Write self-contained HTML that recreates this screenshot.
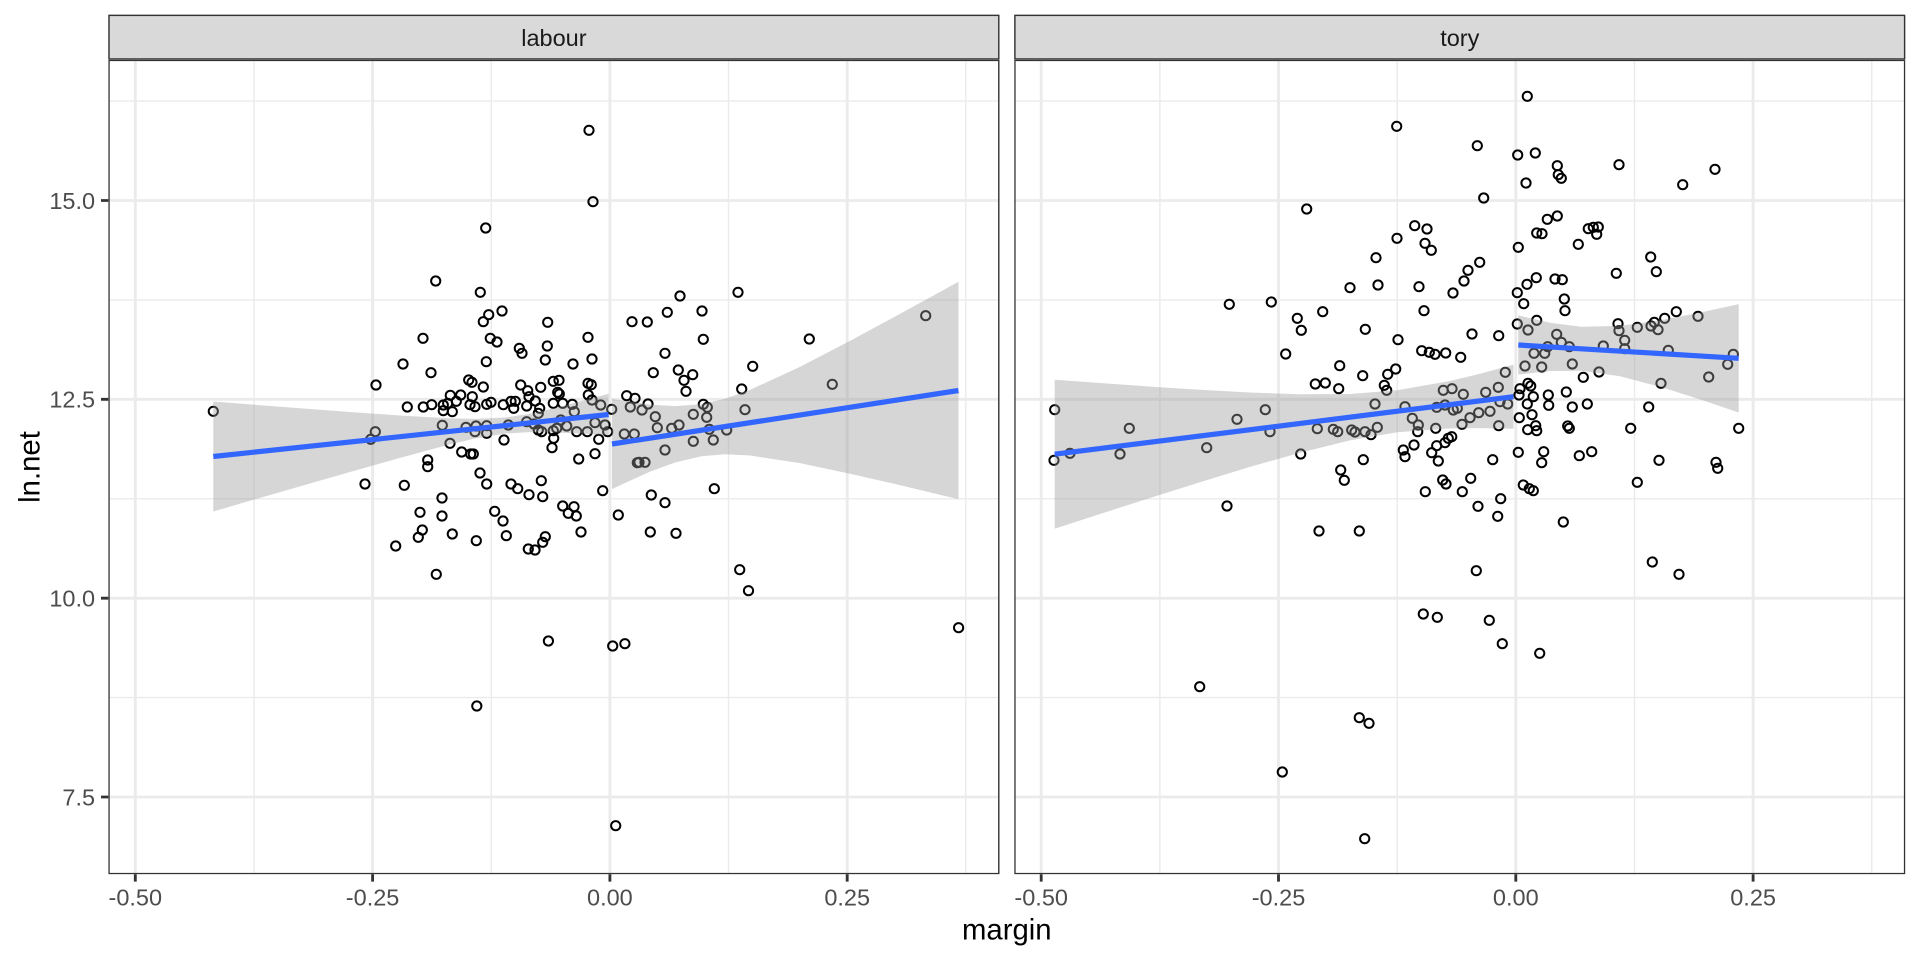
<!DOCTYPE html>
<html>
<head>
<meta charset="utf-8">
<style>
html,body{margin:0;padding:0;background:#fff;}
svg{display:block;}
text{font-family:"Liberation Sans",Arial,sans-serif;}
</style>
</head>
<body>
<svg width="1920" height="960" viewBox="0 0 1920 960" xmlns="http://www.w3.org/2000/svg">
<defs>
<clipPath id="cl"><rect x="108.3" y="59.7" width="891.2" height="814.6"/></clipPath>
<clipPath id="cr"><rect x="1014.2" y="59.7" width="891.1" height="814.6"/></clipPath>
</defs>
<rect x="0" y="0" width="1920" height="960" fill="#fff"/>

<!-- LEFT PANEL -->
<g clip-path="url(#cl)">
<rect x="108.3" y="59.7" width="891.2" height="814.6" fill="#fff"/>
<g stroke="#EBEBEB" stroke-width="1.42" fill="none">
<path d="M108.3 101.1H999.5M108.3 299.9H999.5M108.3 498.8H999.5M108.3 697.6H999.5M254 59.7V874.3M491.3 59.7V874.3M728.5 59.7V874.3M965.8 59.7V874.3"/>
</g>
<g stroke="#EBEBEB" stroke-width="2.85" fill="none">
<path d="M108.3 200.5H999.5M108.3 399.3H999.5M108.3 598.2H999.5M108.3 797H999.5M135.3 59.7V874.3M372.6 59.7V874.3M609.9 59.7V874.3M847.2 59.7V874.3"/>
</g>
<g fill="none" stroke="#000" stroke-width="2">
<circle cx="213.3" cy="411.3" r="4.6"/><circle cx="435.7" cy="281" r="4.6"/><circle cx="480.3" cy="292.3" r="4.6"/><circle cx="502" cy="311" r="4.6"/><circle cx="488.7" cy="314.7" r="4.6"/><circle cx="483.3" cy="321.7" r="4.6"/><circle cx="547.7" cy="322.3" r="4.6"/><circle cx="632" cy="321.7" r="4.6"/><circle cx="423" cy="338.3" r="4.6"/><circle cx="490.3" cy="338.3" r="4.6"/><circle cx="497" cy="342" r="4.6"/><circle cx="588" cy="337.3" r="4.6"/><circle cx="547.3" cy="346" r="4.6"/><circle cx="519.3" cy="348.3" r="4.6"/><circle cx="522" cy="353.3" r="4.6"/><circle cx="545.3" cy="360" r="4.6"/><circle cx="592" cy="359" r="4.6"/><circle cx="486.3" cy="361.7" r="4.6"/><circle cx="403" cy="364" r="4.6"/><circle cx="573" cy="364" r="4.6"/><circle cx="431" cy="372.7" r="4.6"/><circle cx="376" cy="385" r="4.6"/><circle cx="468.7" cy="380" r="4.6"/><circle cx="472" cy="382.3" r="4.6"/><circle cx="483.3" cy="387" r="4.6"/><circle cx="520.7" cy="385" r="4.6"/><circle cx="540.7" cy="387.3" r="4.6"/><circle cx="553.3" cy="381.3" r="4.6"/><circle cx="559" cy="380.3" r="4.6"/><circle cx="527.7" cy="390.7" r="4.6"/><circle cx="557.7" cy="392.3" r="4.6"/><circle cx="588" cy="383.3" r="4.6"/><circle cx="591.3" cy="384.7" r="4.6"/><circle cx="588.3" cy="395" r="4.6"/><circle cx="450.3" cy="395.3" r="4.6"/><circle cx="460.7" cy="395" r="4.6"/><circle cx="472.3" cy="396.7" r="4.6"/><circle cx="529" cy="396.7" r="4.6"/><circle cx="559.3" cy="394" r="4.6"/><circle cx="626.7" cy="395.7" r="4.6"/><circle cx="635" cy="398.3" r="4.6"/><circle cx="407.3" cy="407" r="4.6"/><circle cx="423.3" cy="407" r="4.6"/><circle cx="431.7" cy="404.7" r="4.6"/><circle cx="443.3" cy="405" r="4.6"/><circle cx="447.7" cy="403.3" r="4.6"/><circle cx="456.3" cy="401.3" r="4.6"/><circle cx="470" cy="404.7" r="4.6"/><circle cx="475" cy="406.7" r="4.6"/><circle cx="486.7" cy="404.3" r="4.6"/><circle cx="491" cy="402.3" r="4.6"/><circle cx="503.3" cy="404.7" r="4.6"/><circle cx="511" cy="401.3" r="4.6"/><circle cx="515.3" cy="401.3" r="4.6"/><circle cx="513.7" cy="408.3" r="4.6"/><circle cx="526.7" cy="406" r="4.6"/><circle cx="535.3" cy="401" r="4.6"/><circle cx="539.7" cy="408.3" r="4.6"/><circle cx="553.3" cy="403.3" r="4.6"/><circle cx="562.7" cy="403.3" r="4.6"/><circle cx="572.3" cy="404.3" r="4.6"/><circle cx="592" cy="400" r="4.6"/><circle cx="600.7" cy="405" r="4.6"/><circle cx="611.7" cy="409.3" r="4.6"/><circle cx="630.3" cy="407" r="4.6"/><circle cx="443.3" cy="410.7" r="4.6"/><circle cx="452.3" cy="411.7" r="4.6"/><circle cx="538.3" cy="413.3" r="4.6"/><circle cx="574.3" cy="411.7" r="4.6"/><circle cx="560.7" cy="420" r="4.6"/><circle cx="526.7" cy="421.7" r="4.6"/><circle cx="534" cy="424" r="4.6"/><circle cx="595" cy="422.7" r="4.6"/><circle cx="442.3" cy="425.3" r="4.6"/><circle cx="466" cy="427.3" r="4.6"/><circle cx="476" cy="426" r="4.6"/><circle cx="486.7" cy="425.7" r="4.6"/><circle cx="508.3" cy="425" r="4.6"/><circle cx="566.7" cy="426" r="4.6"/><circle cx="605" cy="425" r="4.6"/><circle cx="475" cy="431.7" r="4.6"/><circle cx="486.7" cy="433.3" r="4.6"/><circle cx="538.3" cy="430" r="4.6"/><circle cx="541.7" cy="431.7" r="4.6"/><circle cx="553.3" cy="430.7" r="4.6"/><circle cx="556.7" cy="428.3" r="4.6"/><circle cx="576.7" cy="431.7" r="4.6"/><circle cx="587.3" cy="431.7" r="4.6"/><circle cx="607.7" cy="431.7" r="4.6"/><circle cx="624.3" cy="434" r="4.6"/><circle cx="634.3" cy="434" r="4.6"/><circle cx="375.3" cy="431.7" r="4.6"/><circle cx="370.7" cy="439.3" r="4.6"/><circle cx="504" cy="440" r="4.6"/><circle cx="553.7" cy="438.3" r="4.6"/><circle cx="598.7" cy="439.3" r="4.6"/><circle cx="450" cy="443.3" r="4.6"/><circle cx="552" cy="447.7" r="4.6"/><circle cx="461.7" cy="452" r="4.6"/><circle cx="470.7" cy="454" r="4.6"/><circle cx="473.3" cy="454" r="4.6"/><circle cx="595" cy="453.7" r="4.6"/><circle cx="578.7" cy="459" r="4.6"/><circle cx="427.7" cy="460" r="4.6"/><circle cx="427.7" cy="466.7" r="4.6"/><circle cx="637.3" cy="462.7" r="4.6"/><circle cx="480" cy="473" r="4.6"/><circle cx="486.7" cy="484" r="4.6"/><circle cx="365" cy="484" r="4.6"/><circle cx="404.3" cy="485.3" r="4.6"/><circle cx="511" cy="484" r="4.6"/><circle cx="517.7" cy="488.7" r="4.6"/><circle cx="541.3" cy="480.7" r="4.6"/><circle cx="602.7" cy="490.7" r="4.6"/><circle cx="529" cy="494.7" r="4.6"/><circle cx="542.7" cy="496.7" r="4.6"/><circle cx="442" cy="498" r="4.6"/><circle cx="562.7" cy="506" r="4.6"/><circle cx="574" cy="506.7" r="4.6"/><circle cx="568.3" cy="513.3" r="4.6"/><circle cx="576.3" cy="516" r="4.6"/><circle cx="420" cy="512.3" r="4.6"/><circle cx="442" cy="516" r="4.6"/><circle cx="494.7" cy="511.3" r="4.6"/><circle cx="503" cy="521" r="4.6"/><circle cx="618.3" cy="515" r="4.6"/><circle cx="422.3" cy="530" r="4.6"/><circle cx="418.3" cy="537.3" r="4.6"/><circle cx="452.3" cy="534" r="4.6"/><circle cx="476.3" cy="540.7" r="4.6"/><circle cx="506.3" cy="535.7" r="4.6"/><circle cx="545.3" cy="536.7" r="4.6"/><circle cx="542.7" cy="542.3" r="4.6"/><circle cx="581" cy="532" r="4.6"/><circle cx="395.7" cy="546" r="4.6"/><circle cx="528.3" cy="549" r="4.6"/><circle cx="535" cy="550" r="4.6"/>
<circle cx="680" cy="296" r="4.6"/><circle cx="738" cy="292.3" r="4.6"/><circle cx="667.3" cy="312.3" r="4.6"/><circle cx="702" cy="311" r="4.6"/><circle cx="647.3" cy="322" r="4.6"/><circle cx="703.3" cy="339.3" r="4.6"/><circle cx="809.3" cy="339" r="4.6"/><circle cx="925.7" cy="315.7" r="4.6"/><circle cx="665" cy="353.3" r="4.6"/><circle cx="653.3" cy="372.7" r="4.6"/><circle cx="678.3" cy="370" r="4.6"/><circle cx="692.7" cy="374.7" r="4.6"/><circle cx="684" cy="380.3" r="4.6"/><circle cx="686" cy="391.3" r="4.6"/><circle cx="752.7" cy="366.3" r="4.6"/><circle cx="741.7" cy="389" r="4.6"/><circle cx="832.3" cy="384.3" r="4.6"/><circle cx="648" cy="404" r="4.6"/><circle cx="642" cy="410" r="4.6"/><circle cx="703.3" cy="404.3" r="4.6"/><circle cx="707.3" cy="407.3" r="4.6"/><circle cx="745" cy="409.7" r="4.6"/><circle cx="655.3" cy="416.7" r="4.6"/><circle cx="693.3" cy="414.3" r="4.6"/><circle cx="706.7" cy="417.3" r="4.6"/><circle cx="657.3" cy="427.7" r="4.6"/><circle cx="671.7" cy="428.3" r="4.6"/><circle cx="679" cy="425" r="4.6"/><circle cx="709.3" cy="429.3" r="4.6"/><circle cx="726.7" cy="430" r="4.6"/><circle cx="693.3" cy="441.3" r="4.6"/><circle cx="713.3" cy="440" r="4.6"/><circle cx="665" cy="450" r="4.6"/><circle cx="639" cy="462.3" r="4.6"/><circle cx="645" cy="462.3" r="4.6"/><circle cx="714.3" cy="488.7" r="4.6"/><circle cx="651.3" cy="495" r="4.6"/><circle cx="665" cy="502.7" r="4.6"/><circle cx="650.3" cy="532" r="4.6"/><circle cx="676" cy="533.3" r="4.6"/>
<circle cx="589" cy="130.3" r="4.6"/><circle cx="593" cy="201.7" r="4.6"/><circle cx="485.7" cy="228" r="4.6"/>
<circle cx="436.3" cy="574.3" r="4.6"/><circle cx="476.8" cy="706" r="4.6"/><circle cx="548.4" cy="641" r="4.6"/><circle cx="612.7" cy="646" r="4.6"/><circle cx="624.9" cy="643.7" r="4.6"/><circle cx="615.7" cy="825.7" r="4.6"/><circle cx="739.7" cy="569.7" r="4.6"/><circle cx="748.5" cy="590.7" r="4.6"/><circle cx="958.6" cy="627.7" r="4.6"/>
</g>
<g fill="#999999" fill-opacity="0.4" stroke="none">
<polygon points="213.3,401.5 250,404.4 300,408.2 350,412 400,415.5 450,418.4 475,418.9 505.5,417.5 530,413.7 550,409.3 580,401.5 608.6,393.7 608.6,435.3 580,433.5 550,432.3 530,432.1 505.5,433.5 475,438.5 450,444.4 400,457.9 350,472 300,486.4 250,500.8 213.3,511.5"/>
<polygon points="612,399 650,404.6 675,406.1 701.4,404.2 725,398.8 750,389.9 800,366.9 850,340.9 900,313.9 958.5,281.7 958.5,499.3 900,485.1 850,473.7 800,463.1 750,455.5 725,454.2 701.4,456.2 675,462.5 650,471.6 612,489"/>
</g>
<g stroke="#3366FF" stroke-width="5.2" fill="none" stroke-linecap="butt">
<line x1="213.3" y1="456.5" x2="608.6" y2="414.5"/>
<line x1="612" y1="444" x2="958.5" y2="390.5"/>
</g>
<rect x="109" y="60.4" width="889.8" height="813.2" fill="none" stroke="#333333" stroke-width="1.42"/>
</g>

<!-- RIGHT PANEL -->
<g clip-path="url(#cr)">
<rect x="1014.2" y="59.7" width="891.1" height="814.6" fill="#fff"/>
<g stroke="#EBEBEB" stroke-width="1.42" fill="none">
<path d="M1014.2 101.1H1905.3M1014.2 299.9H1905.3M1014.2 498.8H1905.3M1014.2 697.6H1905.3M1159.9 59.7V874.3M1397.2 59.7V874.3M1634.5 59.7V874.3M1871.7 59.7V874.3"/>
</g>
<g stroke="#EBEBEB" stroke-width="2.85" fill="none">
<path d="M1014.2 200.5H1905.3M1014.2 399.3H1905.3M1014.2 598.2H1905.3M1014.2 797H1905.3M1041.2 59.7V874.3M1278.5 59.7V874.3M1515.8 59.7V874.3M1753.1 59.7V874.3"/>
</g>
<g fill="none" stroke="#000" stroke-width="2">
<circle cx="1396.7" cy="126.3" r="4.6"/><circle cx="1477.3" cy="145.7" r="4.6"/><circle cx="1483.7" cy="198" r="4.6"/><circle cx="1306.7" cy="209" r="4.6"/><circle cx="1414.7" cy="225.7" r="4.6"/><circle cx="1427" cy="229" r="4.6"/><circle cx="1397" cy="238.3" r="4.6"/><circle cx="1425" cy="243.3" r="4.6"/><circle cx="1431.3" cy="250.3" r="4.6"/><circle cx="1376" cy="257.7" r="4.6"/><circle cx="1479.7" cy="262.3" r="4.6"/><circle cx="1468" cy="270.3" r="4.6"/><circle cx="1464" cy="281" r="4.6"/><circle cx="1350" cy="287.7" r="4.6"/><circle cx="1378" cy="285" r="4.6"/><circle cx="1419" cy="286.7" r="4.6"/><circle cx="1453" cy="293" r="4.6"/><circle cx="1229.3" cy="304.3" r="4.6"/><circle cx="1271.3" cy="302" r="4.6"/><circle cx="1322.7" cy="311.7" r="4.6"/><circle cx="1424" cy="310.7" r="4.6"/><circle cx="1297.3" cy="318.3" r="4.6"/><circle cx="1301.3" cy="330.3" r="4.6"/><circle cx="1365.3" cy="329.3" r="4.6"/><circle cx="1398" cy="339.7" r="4.6"/><circle cx="1472" cy="334" r="4.6"/><circle cx="1498.7" cy="335.7" r="4.6"/><circle cx="1285.7" cy="354" r="4.6"/><circle cx="1421.7" cy="350.7" r="4.6"/><circle cx="1429.3" cy="352.3" r="4.6"/><circle cx="1435" cy="354.3" r="4.6"/><circle cx="1445.7" cy="353" r="4.6"/><circle cx="1460.7" cy="357.3" r="4.6"/><circle cx="1339.7" cy="365.7" r="4.6"/><circle cx="1395.7" cy="369" r="4.6"/><circle cx="1387.7" cy="374.3" r="4.6"/><circle cx="1362.7" cy="375.7" r="4.6"/><circle cx="1505.3" cy="372.3" r="4.6"/><circle cx="1315.3" cy="384" r="4.6"/><circle cx="1325.3" cy="383" r="4.6"/><circle cx="1338.7" cy="388.7" r="4.6"/><circle cx="1384.3" cy="385.3" r="4.6"/><circle cx="1386.7" cy="390.3" r="4.6"/><circle cx="1443.3" cy="390.3" r="4.6"/><circle cx="1452" cy="388.7" r="4.6"/><circle cx="1463.3" cy="394.3" r="4.6"/><circle cx="1485.7" cy="392.3" r="4.6"/><circle cx="1498.3" cy="387.3" r="4.6"/>
<circle cx="1054.7" cy="409.7" r="4.6"/><circle cx="1054" cy="460.3" r="4.6"/><circle cx="1070" cy="453.3" r="4.6"/><circle cx="1129.3" cy="428.3" r="4.6"/><circle cx="1120" cy="454" r="4.6"/><circle cx="1237" cy="419.3" r="4.6"/><circle cx="1265.3" cy="409.7" r="4.6"/><circle cx="1270" cy="431.7" r="4.6"/><circle cx="1206.7" cy="447.7" r="4.6"/><circle cx="1300.7" cy="454" r="4.6"/><circle cx="1317.3" cy="428.7" r="4.6"/><circle cx="1333.3" cy="429.3" r="4.6"/><circle cx="1337.7" cy="431.7" r="4.6"/><circle cx="1351.7" cy="430" r="4.6"/><circle cx="1355" cy="432" r="4.6"/><circle cx="1365" cy="431.7" r="4.6"/><circle cx="1371" cy="434.7" r="4.6"/><circle cx="1377.3" cy="427.3" r="4.6"/><circle cx="1375" cy="404" r="4.6"/><circle cx="1405" cy="406.7" r="4.6"/><circle cx="1412.3" cy="418.3" r="4.6"/><circle cx="1418.3" cy="425" r="4.6"/><circle cx="1417.7" cy="431.7" r="4.6"/><circle cx="1435.7" cy="428.3" r="4.6"/><circle cx="1436.7" cy="407.3" r="4.6"/><circle cx="1445" cy="405" r="4.6"/><circle cx="1453.3" cy="410" r="4.6"/><circle cx="1457.3" cy="408.3" r="4.6"/><circle cx="1462" cy="424.3" r="4.6"/><circle cx="1470" cy="417.7" r="4.6"/><circle cx="1478.7" cy="412.7" r="4.6"/><circle cx="1490" cy="411.3" r="4.6"/><circle cx="1498.7" cy="425.7" r="4.6"/><circle cx="1500" cy="401.7" r="4.6"/><circle cx="1507.7" cy="404" r="4.6"/><circle cx="1403.3" cy="450" r="4.6"/><circle cx="1405" cy="456.7" r="4.6"/><circle cx="1414" cy="445" r="4.6"/><circle cx="1431.7" cy="452.7" r="4.6"/><circle cx="1438.3" cy="461" r="4.6"/><circle cx="1436.7" cy="445.7" r="4.6"/><circle cx="1445" cy="442.7" r="4.6"/><circle cx="1448.3" cy="438.3" r="4.6"/><circle cx="1451.7" cy="436.7" r="4.6"/><circle cx="1492.7" cy="459.7" r="4.6"/><circle cx="1363.3" cy="459.7" r="4.6"/><circle cx="1340.7" cy="470" r="4.6"/><circle cx="1344.3" cy="480.3" r="4.6"/><circle cx="1442.7" cy="480" r="4.6"/><circle cx="1446" cy="484" r="4.6"/><circle cx="1470.7" cy="478.3" r="4.6"/><circle cx="1425.3" cy="491.7" r="4.6"/><circle cx="1462.3" cy="491.7" r="4.6"/><circle cx="1500.7" cy="498.7" r="4.6"/><circle cx="1478" cy="506.3" r="4.6"/><circle cx="1497.7" cy="516.3" r="4.6"/><circle cx="1227" cy="506" r="4.6"/><circle cx="1319" cy="531" r="4.6"/><circle cx="1359.3" cy="531" r="4.6"/><circle cx="1476.3" cy="570.7" r="4.6"/><circle cx="1423.3" cy="614" r="4.6"/><circle cx="1437.3" cy="617.3" r="4.6"/><circle cx="1489.3" cy="620.3" r="4.6"/><circle cx="1502.3" cy="643.7" r="4.6"/><circle cx="1199.7" cy="686.7" r="4.6"/>
<circle cx="1359.3" cy="717.7" r="4.6"/><circle cx="1369" cy="723.3" r="4.6"/><circle cx="1282.3" cy="772" r="4.6"/><circle cx="1364.7" cy="838.7" r="4.6"/>
<circle cx="1527.3" cy="96.3" r="4.6"/><circle cx="1517.7" cy="155" r="4.6"/><circle cx="1535.3" cy="153" r="4.6"/><circle cx="1557.3" cy="165.7" r="4.6"/><circle cx="1558.3" cy="174.7" r="4.6"/><circle cx="1561.3" cy="178.3" r="4.6"/><circle cx="1526" cy="183" r="4.6"/><circle cx="1619" cy="164.7" r="4.6"/><circle cx="1715" cy="169.3" r="4.6"/><circle cx="1682.7" cy="184.7" r="4.6"/><circle cx="1557.3" cy="216" r="4.6"/><circle cx="1547.3" cy="219.3" r="4.6"/><circle cx="1536.7" cy="233" r="4.6"/><circle cx="1542" cy="233.7" r="4.6"/><circle cx="1588.3" cy="228.7" r="4.6"/><circle cx="1593.3" cy="227.3" r="4.6"/><circle cx="1598.3" cy="227" r="4.6"/><circle cx="1596.7" cy="234.3" r="4.6"/><circle cx="1518.3" cy="247.3" r="4.6"/><circle cx="1578.3" cy="244.3" r="4.6"/><circle cx="1650.7" cy="257" r="4.6"/><circle cx="1656.3" cy="271.7" r="4.6"/><circle cx="1616.3" cy="273.3" r="4.6"/><circle cx="1536.3" cy="277.7" r="4.6"/><circle cx="1527" cy="284.3" r="4.6"/><circle cx="1555" cy="279" r="4.6"/><circle cx="1562.3" cy="279.7" r="4.6"/><circle cx="1517.3" cy="292.7" r="4.6"/><circle cx="1523.7" cy="303.7" r="4.6"/><circle cx="1564.3" cy="299" r="4.6"/><circle cx="1565" cy="310.7" r="4.6"/><circle cx="1517.3" cy="324" r="4.6"/><circle cx="1528" cy="330" r="4.6"/><circle cx="1536.7" cy="320.3" r="4.6"/><circle cx="1618" cy="323.7" r="4.6"/><circle cx="1619" cy="330.7" r="4.6"/><circle cx="1637.3" cy="327.3" r="4.6"/><circle cx="1651" cy="326" r="4.6"/><circle cx="1654.3" cy="322.3" r="4.6"/><circle cx="1658" cy="329.7" r="4.6"/><circle cx="1664.7" cy="318.3" r="4.6"/><circle cx="1676.3" cy="311.7" r="4.6"/><circle cx="1698" cy="316.3" r="4.6"/><circle cx="1556.7" cy="334.3" r="4.6"/><circle cx="1561.3" cy="342.3" r="4.6"/><circle cx="1547.7" cy="346.7" r="4.6"/><circle cx="1569.3" cy="346.7" r="4.6"/><circle cx="1603.3" cy="346" r="4.6"/><circle cx="1624.7" cy="340.3" r="4.6"/><circle cx="1624.7" cy="348.7" r="4.6"/><circle cx="1534" cy="353.3" r="4.6"/><circle cx="1544.7" cy="353.3" r="4.6"/><circle cx="1668.3" cy="350.3" r="4.6"/><circle cx="1733.3" cy="354.3" r="4.6"/><circle cx="1727.7" cy="364.3" r="4.6"/><circle cx="1525" cy="366" r="4.6"/><circle cx="1541.7" cy="367" r="4.6"/><circle cx="1572.3" cy="364" r="4.6"/><circle cx="1599" cy="372" r="4.6"/><circle cx="1583.3" cy="377.3" r="4.6"/><circle cx="1708.7" cy="377" r="4.6"/><circle cx="1661" cy="383.3" r="4.6"/><circle cx="1528" cy="383.3" r="4.6"/><circle cx="1520" cy="388.7" r="4.6"/><circle cx="1530.7" cy="386" r="4.6"/><circle cx="1548.3" cy="395" r="4.6"/><circle cx="1566.3" cy="392" r="4.6"/><circle cx="1519" cy="395" r="4.6"/><circle cx="1533.3" cy="396.7" r="4.6"/>
<circle cx="1527.3" cy="404" r="4.6"/><circle cx="1548.7" cy="405.3" r="4.6"/><circle cx="1572.3" cy="407" r="4.6"/><circle cx="1587.3" cy="404" r="4.6"/><circle cx="1648.7" cy="407" r="4.6"/><circle cx="1519.3" cy="417.7" r="4.6"/><circle cx="1532" cy="414.7" r="4.6"/><circle cx="1527.7" cy="429.7" r="4.6"/><circle cx="1535.7" cy="425.7" r="4.6"/><circle cx="1536.7" cy="430.7" r="4.6"/><circle cx="1567.7" cy="426" r="4.6"/><circle cx="1569.3" cy="428.3" r="4.6"/><circle cx="1630.7" cy="428.3" r="4.6"/><circle cx="1738.7" cy="428.3" r="4.6"/><circle cx="1518.3" cy="452.3" r="4.6"/><circle cx="1543.7" cy="451.7" r="4.6"/><circle cx="1541.7" cy="462.7" r="4.6"/><circle cx="1579.3" cy="455.7" r="4.6"/><circle cx="1591.7" cy="451.7" r="4.6"/><circle cx="1659" cy="460.3" r="4.6"/><circle cx="1716" cy="462.3" r="4.6"/><circle cx="1717.7" cy="468.3" r="4.6"/><circle cx="1637.3" cy="482.3" r="4.6"/><circle cx="1523.3" cy="485" r="4.6"/><circle cx="1529.3" cy="488.7" r="4.6"/><circle cx="1533.3" cy="490.7" r="4.6"/><circle cx="1563.3" cy="522" r="4.6"/><circle cx="1652.3" cy="562" r="4.6"/><circle cx="1679" cy="574.3" r="4.6"/><circle cx="1539.7" cy="653.3" r="4.6"/>
</g>
<g fill="#999999" fill-opacity="0.4" stroke="none">
<polygon points="1054.7,379.7 1100,383 1150,386.6 1200,389.8 1250,392.5 1300,394.3 1350,394 1397.2,390.3 1450,381 1480,373.7 1513.5,364.6 1513.5,428.8 1480,428.1 1450,428.4 1397.2,432.3 1350,440.4 1300,452.7 1250,466.9 1200,482.2 1150,498 1100,514 1054.7,528.7"/>
<polygon points="1518.3,315.4 1550,322.8 1581.1,326.8 1620,325.9 1660,320.4 1700,312.6 1738.7,304.1 1738.7,412.5 1700,399.4 1660,386.8 1620,376.3 1581.1,370.8 1550,371 1518.3,374.6"/>
</g>
<g stroke="#3366FF" stroke-width="5.2" fill="none" stroke-linecap="butt">
<line x1="1054.7" y1="454.2" x2="1513.5" y2="396.7"/>
<line x1="1518.3" y1="345" x2="1738.7" y2="358.3"/>
</g>
<rect x="1014.9" y="60.4" width="889.7" height="813.2" fill="none" stroke="#333333" stroke-width="1.42"/>
</g>

<!-- STRIPS -->
<rect x="108.3" y="14.67" width="891.2" height="45" fill="#D9D9D9"/>
<rect x="109" y="15.37" width="889.8" height="43.6" fill="none" stroke="#333333" stroke-width="1.42"/>
<rect x="1014.2" y="14.67" width="891.1" height="45" fill="#D9D9D9"/>
<rect x="1014.9" y="15.37" width="889.7" height="43.6" fill="none" stroke="#333333" stroke-width="1.42"/>
<text x="553.9" y="46" font-size="23.5" fill="#1A1A1A" text-anchor="middle">labour</text>
<text x="1459.8" y="46" font-size="23.5" fill="#1A1A1A" text-anchor="middle">tory</text>

<!-- TICKS -->
<g stroke="#333333" stroke-width="2.85" fill="none">
<path d="M101 200.5H108.3M101 399.3H108.3M101 598.2H108.3M101 797H108.3"/>
<path d="M135.3 874.3V881.6M372.6 874.3V881.6M609.9 874.3V881.6M847.2 874.3V881.6M1041.2 874.3V881.6M1278.5 874.3V881.6M1515.8 874.3V881.6M1753.1 874.3V881.6"/>
</g>
<g font-size="23.5" fill="#4D4D4D" text-anchor="end">
<text x="95.1" y="208.8">15.0</text>
<text x="95.1" y="407.6">12.5</text>
<text x="95.1" y="606.5">10.0</text>
<text x="95.1" y="805.3">7.5</text>
</g>
<g font-size="23.5" fill="#4D4D4D" text-anchor="middle">
<text x="135.3" y="905.5">-0.50</text>
<text x="372.6" y="905.5">-0.25</text>
<text x="609.9" y="905.5">0.00</text>
<text x="847.2" y="905.5">0.25</text>
<text x="1041.2" y="905.5">-0.50</text>
<text x="1278.5" y="905.5">-0.25</text>
<text x="1515.8" y="905.5">0.00</text>
<text x="1753.1" y="905.5">0.25</text>
</g>

<!-- AXIS TITLES -->
<text x="1006.8" y="939.5" font-size="29.3" fill="#000" text-anchor="middle">margin</text>
<text transform="translate(39.5,467) rotate(-90)" font-size="29.3" fill="#000" text-anchor="middle">ln.net</text>
</svg>
</body>
</html>
